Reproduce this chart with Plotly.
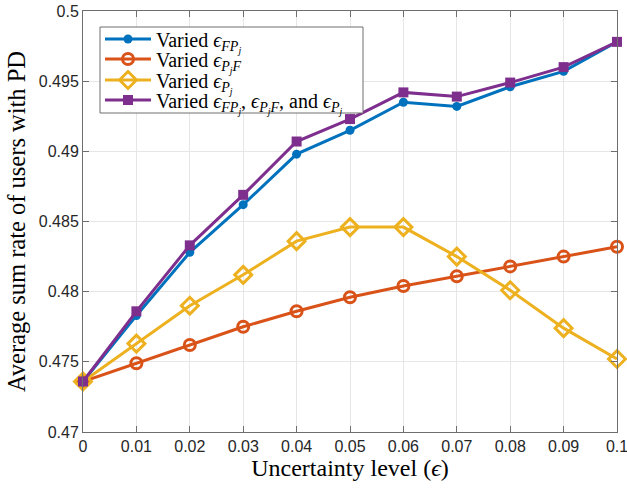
import plotly.graph_objects as go

x = [0, 0.01, 0.02, 0.03, 0.04, 0.05, 0.06, 0.07, 0.08, 0.09, 0.1]
blue = [0.4736, 0.4783, 0.4828, 0.4862, 0.4898, 0.4915, 0.4935, 0.4932, 0.4946, 0.4957, 0.4978]
orange = [0.4736, 0.4749, 0.4762, 0.4775, 0.4786, 0.4796, 0.4804, 0.4811, 0.4818, 0.4825, 0.4832]
yellow = [0.4736, 0.4763, 0.4790, 0.4812, 0.4836, 0.4846, 0.4846, 0.4825, 0.4801, 0.4774, 0.4752]
purple = [0.4736, 0.4786, 0.4833, 0.4869, 0.4907, 0.4923, 0.4942, 0.4939, 0.4949, 0.4960, 0.4978]

xticks = [0, 0.01, 0.02, 0.03, 0.04, 0.05, 0.06, 0.07, 0.08, 0.09, 0.1]
xticktext = ["0", "0.01", "0.02", "0.03", "0.04", "0.05", "0.06", "0.07", "0.08", "0.09", "0.1"]
yticks = [0.47, 0.475, 0.48, 0.485, 0.49, 0.495, 0.5]
yticktext = ["0.47", "0.475", "0.48", "0.485", "0.49", "0.495", "0.5"]

names = [
    "Varied <i>ϵ</i><sub><i>FP<sub>j</sub></i></sub>",
    "Varied <i>ϵ</i><sub><i>P<sub>j</sub>F</i></sub>",
    "Varied <i>ϵ</i><sub><i>P<sub>j</sub></i></sub>",
    "Varied <i>ϵ</i><sub><i>FP<sub>j</sub></i></sub>, <i>ϵ</i><sub><i>P<sub>j</sub>F</i></sub>, and <i>ϵ</i><sub><i>P<sub>j</sub></i></sub>",
]

L, R, T, B = 83, 10, 11, 56
W, H = 627, 488
pw, ph = W - L - R, H - T - B

def px_x(p):
    return (p - L) / pw

def px_y(p):
    return (H - B - p) / ph

fig = go.Figure()
fig.add_trace(go.Scatter(x=x, y=blue, name=names[0], mode="lines+markers", cliponaxis=False,
                         legend="legend", showlegend=True,
                         line=dict(color="#0072BD", width=3),
                         marker=dict(symbol="circle", size=9, color="#0072BD")))
fig.add_trace(go.Scatter(x=x, y=orange, name=names[1], mode="lines+markers", cliponaxis=False,
                         legend="legend2", showlegend=True,
                         line=dict(color="#D95319", width=3),
                         marker=dict(symbol="circle-open", size=11, color="#D95319", line=dict(width=3))))
fig.add_trace(go.Scatter(x=x, y=yellow, name=names[2], mode="lines+markers", cliponaxis=False,
                         legend="legend3", showlegend=True,
                         line=dict(color="#EDB120", width=3),
                         marker=dict(symbol="diamond-open", size=13, color="#EDB120", line=dict(width=3))))
fig.add_trace(go.Scatter(x=x, y=purple, name=names[3], mode="lines+markers", cliponaxis=False,
                         legend="legend4", showlegend=True,
                         line=dict(color="#7E2F8E", width=3),
                         marker=dict(symbol="square", size=10, color="#7E2F8E")))

axis_common = dict(showgrid=True, gridcolor="#e6e6e6", gridwidth=1,
                   showline=True, linecolor="#6e6e6e", linewidth=1, mirror="ticks",
                   ticks="inside", ticklen=6, tickcolor="#6e6e6e",
                   tickfont=dict(family="Liberation Sans", size=16, color="#262626"),
                   ticklabeloverflow="allow", automargin=False,
                   zeroline=False)

fig.update_xaxes(range=[0, 0.1], tickvals=xticks, ticktext=xticktext,
                 title=dict(text="Uncertainty level (<i>ϵ</i>)", font=dict(family="Liberation Serif", size=24, color="#000"), standoff=4),
                 **axis_common)
fig.update_yaxes(range=[0.47, 0.5], tickvals=yticks, ticktext=yticktext,
                 title=dict(text="Average sum rate of users with PD", font=dict(family="Liberation Serif", size=24.5, color="#000"), standoff=6),
                 **axis_common)

leg_font = dict(family="Liberation Serif", size=20, color="#000")
row_centers = [39, 59, 80, 100]
legends = {}
for i, key in enumerate(["legend", "legend2", "legend3", "legend4"]):
    legends[key] = dict(x=px_x(100), y=px_y(row_centers[i]), xanchor="left", yanchor="middle",
                        bgcolor="rgba(0,0,0,0)", borderwidth=0, font=leg_font,
                        tracegroupgap=0, itemwidth=46, visible=True)

fig.update_layout(
    width=W, height=H,
    margin=dict(l=L, r=R, t=T, b=B),
    paper_bgcolor="white", plot_bgcolor="white",
    showlegend=True,
    shapes=[dict(type="rect", xref="paper", yref="paper", layer="above",
                 x0=px_x(100), x1=px_x(363), y0=px_y(113), y1=px_y(27),
                 fillcolor="white", line=dict(color="#6e6e6e", width=1))],
    **legends,
)

fig.write_html("out.html", config={"displayModeBar": False},
               post_script="document.body.style.margin='0';")
